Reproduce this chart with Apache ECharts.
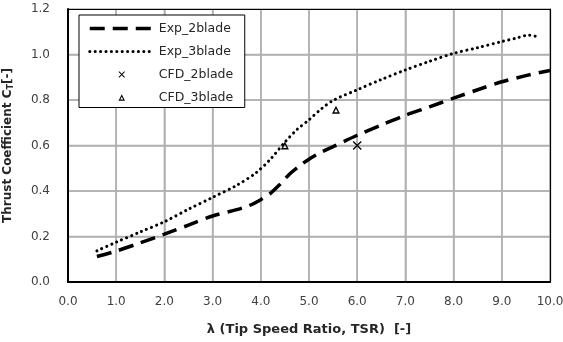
<!DOCTYPE html>
<html>
<head>
<meta charset="utf-8">
<script src="https://cdn.jsdelivr.net/npm/echarts@6/dist/echarts.min.js"></script>
<style>html,body{margin:0;padding:0;background:#fff;}#c{width:563px;height:342px;}</style>
</head>
<body>
<div id="c"></div>
<script>
// Experimental curves (lambda, CT)
const exp2Lambda = [0.6, 1.0, 1.5, 2.0, 2.5, 3.0, 3.5, 3.75, 4.0, 4.2, 4.4, 4.6, 4.8, 5.0, 5.25, 5.5, 6.0, 6.5, 7.0, 7.5, 8.0, 8.5, 9.0, 9.5, 10.0];
const exp2CT     = [0.112, 0.136, 0.172, 0.21, 0.25, 0.29, 0.318, 0.335, 0.362, 0.39, 0.43, 0.475, 0.51, 0.54, 0.57, 0.595, 0.645, 0.69, 0.733, 0.77, 0.808, 0.845, 0.88, 0.907, 0.93];
const exp3Lambda = [0.6, 1.0, 1.5, 2.0, 2.5, 3.0, 3.5, 3.9, 4.2, 4.5, 4.75, 5.0, 5.25, 5.5, 6.0, 6.5, 7.0, 7.5, 8.0, 8.5, 9.0, 9.3, 9.55, 9.7, 9.75];
const exp3CT     = [0.137, 0.175, 0.22, 0.265, 0.32, 0.372, 0.425, 0.48, 0.54, 0.615, 0.67, 0.713, 0.76, 0.798, 0.845, 0.89, 0.932, 0.97, 1.005, 1.03, 1.057, 1.072, 1.085, 1.08, 1.072];
// CFD points
const cfd2Lambda = [6.0];
const cfd2CT     = [0.6];
const cfd3Lambda = [4.5, 5.56];
const cfd3CT     = [0.6, 0.757];
// Axis ticks
const xTicks = [0, 1, 2, 3, 4, 5, 6, 7, 8, 9, 10];
const yTicks = [0, 0.2, 0.4, 0.6, 0.8, 1.0, 1.2];
const seriesNames = ['Exp_2blade', 'Exp_3blade', 'CFD_2blade', 'CFD_3blade'];

const zip = (a, b) => a.map((v, i) => [v, b[i]]);
const FONT = 'DejaVu Sans';
const crossPath = 'path://M0,1L1,0L5,4L9,0L10,1L6,5L10,9L9,10L5,6L1,10L0,9L4,5Z';
const triPath = 'path://M5,0L10,9L0,9ZM5,3.3L2.72,7.4L7.28,7.4Z';

const xMin = xTicks[0], xMax = xTicks[xTicks.length - 1];
const yMin = yTicks[0], yMax = yTicks[yTicks.length - 1];
const GRIDC = '#b0b0b0';

const gridDefs = xTicks.slice(1, -1).map(v => [v, yMin, 0])
  .concat(yTicks.slice(1, -1).map(v => [xMin, v, 1]));

const chart = echarts.init(document.getElementById('c'), null, {renderer: 'canvas'});
chart.setOption({
  animation: false,
  backgroundColor: '#fff',
  grid: {
    left: 68, right: 13, top: 9, bottom: 60,
    show: false,
    outerBoundsMode: 'none'
  },
  legend: {
    orient: 'vertical',
    left: 79, top: 15,
    padding: [6, 6, 2.5, 9],
    itemWidth: 64, itemHeight: 8, itemGap: 8,
    borderColor: '#000', borderWidth: 1,
    backgroundColor: '#fff',
    textStyle: {fontFamily: FONT, fontSize: 12.5, color: '#262626', width: 80, lineHeight: 15},
    data: [
      {name: seriesNames[0], itemStyle: {opacity: 0}, lineStyle: {width: 3.5}},
      {name: seriesNames[1], itemStyle: {opacity: 0}, lineStyle: {width: 3}},
      {name: seriesNames[2], lineStyle: {opacity: 0, color: 'transparent'}},
      {name: seriesNames[3], lineStyle: {opacity: 0, color: 'transparent'}}
    ]
  },
  xAxis: [{
    type: 'value', min: xMin, max: xMax, interval: 1,
    name: 'λ (Tip Speed Ratio, TSR)  [-]',
    nameLocation: 'middle', nameGap: 41,
    nameTextStyle: {fontFamily: FONT, fontSize: 13, fontWeight: 'bold', color: '#262626'},
    axisLine: {show: true, onZero: false, lineStyle: {color: '#000', width: 2}},
    axisTick: {show: false},
    axisLabel: {margin: 14, fontFamily: FONT, fontSize: 12, color: '#404040', formatter: v => v.toFixed(1)},
    splitLine: {show: true, lineStyle: {color: GRIDC, width: 1.5}},
    z: 2
  }, {
    type: 'value', min: xMin, max: xMax, interval: 1, position: 'top',
    axisLine: {show: true, onZero: false, lineStyle: {color: '#000', width: 1.2}},
    axisTick: {show: false}, axisLabel: {show: false}, splitLine: {show: false},
    z: 2
  }],
  yAxis: [{
    type: 'value', min: yMin, max: yMax, interval: 0.2,
    name: 'Thrust Coefficient C{sub|T}[-]',
    nameLocation: 'middle', nameGap: 53, nameRotate: 90,
    nameTextStyle: {fontFamily: FONT, fontSize: 12, fontWeight: 'bold', color: '#262626',
      rich: {sub: {fontFamily: FONT, fontSize: 8, fontWeight: 'bold', color: '#262626', verticalAlign: 'bottom', padding: [6, 0, 0, 0]}}},
    axisLine: {show: true, onZero: false, lineStyle: {color: '#000', width: 2}},
    axisTick: {show: false},
    axisLabel: {margin: 18, fontFamily: FONT, fontSize: 12, color: '#404040', formatter: v => v.toFixed(1)},
    splitLine: {show: true, lineStyle: {color: GRIDC, width: 1.5}},
    z: 2
  }, {
    type: 'value', min: yMin, max: yMax, interval: 0.2, position: 'right',
    axisLine: {show: true, onZero: false, lineStyle: {color: '#000', width: 1.2}},
    axisTick: {show: false}, axisLabel: {show: false}, splitLine: {show: false},
    z: 2
  }],
  series: [
    {
      name: 'gridlines', type: 'custom', data: gridDefs, z: 1, silent: true,
      encode: {x: 0, y: 1},
      clip: false,
      renderItem: function (params, api) {
        const kind = api.value(2);
        let p1, p2;
        if (kind === 0) {
          p1 = api.coord([api.value(0), yMin]);
          p2 = api.coord([api.value(0), yMax]);
        } else {
          p1 = api.coord([xMin, api.value(1)]);
          p2 = api.coord([xMax, api.value(1)]);
        }
        return {
          type: 'line',
          shape: {x1: p1[0], y1: p1[1], x2: p2[0], y2: p2[1]},
          style: {stroke: GRIDC, lineWidth: 1.5, fill: null}
        };
      }
    },
    {
      name: seriesNames[0], type: 'line', data: zip(exp2Lambda, exp2CT),
      symbol: 'none', smooth: 0.3, color: '#000', z: 3,
      lineStyle: {color: '#000', width: 3.5, type: [15, 8], cap: 'butt'}
    },
    {
      name: seriesNames[1], type: 'line', data: zip(exp3Lambda, exp3CT),
      symbol: 'none', smooth: 0.3, color: '#000', z: 3,
      lineStyle: {color: '#000', width: 3, type: [0.1, 5.3], cap: 'round'}
    },
    {
      name: seriesNames[2], type: 'line', data: zip(cfd2Lambda, cfd2CT),
      symbol: crossPath, symbolSize: 9, showSymbol: true, color: '#000', z: 4,
      itemStyle: {color: '#000'},
      lineStyle: {opacity: 0, width: 0}
    },
    {
      name: seriesNames[3], type: 'line', data: zip(cfd3Lambda, cfd3CT),
      symbol: triPath, symbolSize: 8, showSymbol: true, color: '#000', z: 4,
      itemStyle: {color: '#000'},
      lineStyle: {opacity: 0, width: 0}
    }
  ]
});
</script>
</body>
</html>
